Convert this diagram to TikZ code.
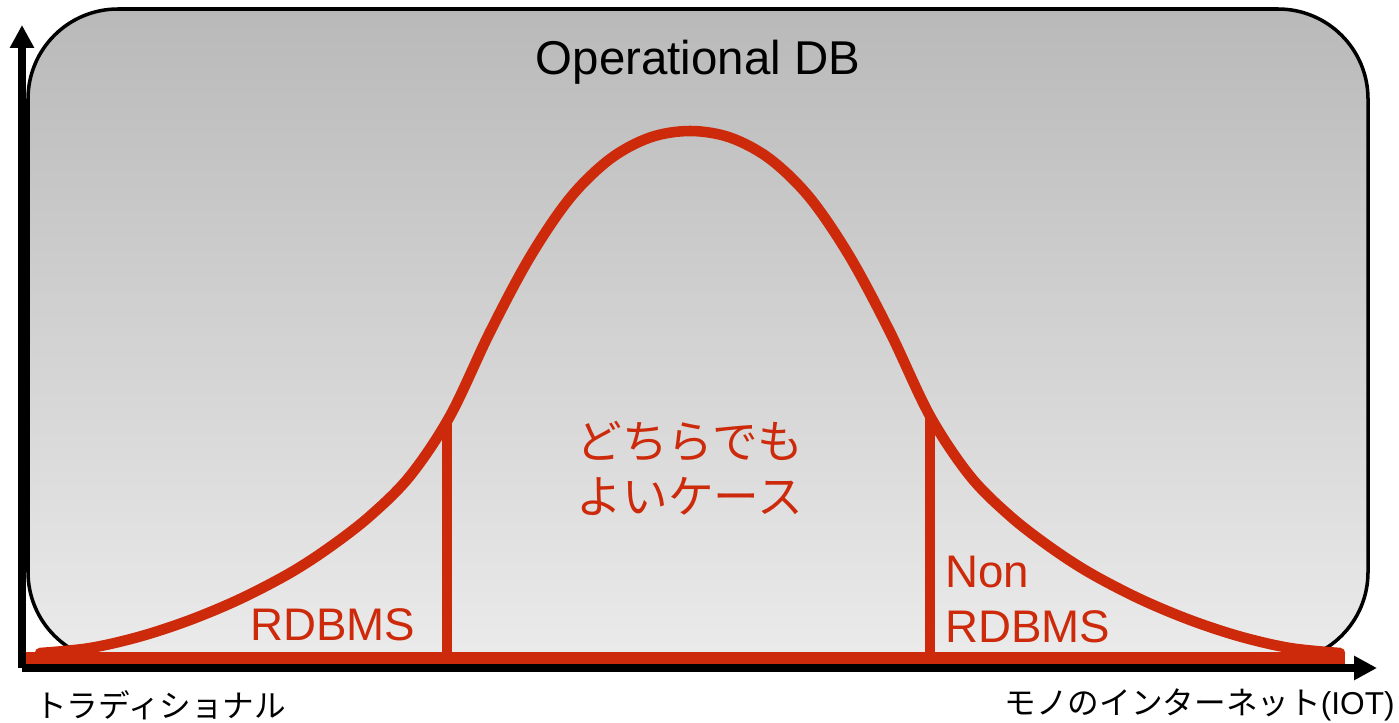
\documentclass[tikz,border=0pt]{standalone}
\usepackage{fontspec}
\setmainfont{Liberation Sans}
\newfontfamily\jpfont{Noto Sans CJK JP}
\usetikzlibrary{arrows.meta}

\definecolor{chalkred}{HTML}{CC2A0A}
\definecolor{dbtop}{HTML}{B9B9B9}
\definecolor{dbbottom}{HTML}{EBEBEB}

\begin{document}
\begin{tikzpicture}[x=0.02cm,y=-0.02cm,
  every node/.style={inner sep=0pt},
  chalk/.style={chalkred,line width=6pt,line cap=round,line join=round},
  axis/.style={line width=4.3pt,-{Triangle[length=13pt,width=13pt]}},
  redtext/.style={text=chalkred,font=\fontsize{26}{31}\selectfont},
  axistext/.style={font=\fontsize{18}{22}\selectfont}]
  \useasboundingbox (0,0) rectangle (1399,723);

  % the DB box
  \draw[line width=2pt,rounded corners=1.8cm,top color=dbtop,bottom color=dbbottom]
    (28,9) rectangle (1368,662);
  \node[anchor=base] at (698,75) (title) {\fontsize{27}{32}\selectfont Operational DB};

  % bell curve
  \draw[chalk] plot[smooth,tension=0.55] coordinates {
    (40,653) (90,648) (140,636.5) (190,620) (240,599) (290,573) (330,547)
    (370,516) (410,476) (450,416) (490,332) (530,257) (570,198) (610,159)
    (650,137.5) (690,131) (730,137.5) (770,159) (810,198) (850,257)
    (890,332) (930,416) (970,476) (1010,516) (1050,547) (1090,573)
    (1140,599) (1190,620) (1240,636.5) (1290,648) (1340,653)};

  \coordinate (lcut)  at (447,421);
  \coordinate (lfoot) at (447,658);
  \coordinate (rcut)  at (930,416);
  \coordinate (rfoot) at (930,658);
  \draw[chalk] (lcut) -- (lfoot);
  \draw[chalk] (rcut) -- (rfoot);

  \coordinate (bstart) at (22,658);
  \coordinate (bend)   at (1345,658);
  \draw[chalk,line width=7pt,line cap=butt] (bstart) -- (bend);

  % labels
  \node[redtext,anchor=base west] at (250,640) (rdb) {RDBMS};
  \node[redtext,anchor=base west] at (945,587) (non) {Non};
  \node[redtext,anchor=base west] at (945,642) (nonrdb) {RDBMS};
  \node[redtext,font=\fontsize{26}{31}\selectfont\jpfont] at (690,441) (mid1) {どちらでも};
  \node[redtext,font=\fontsize{26}{31}\selectfont\jpfont] at (690,496) (mid2) {よいケース};

  % axes
  \coordinate (o) at (22,668);
  \coordinate (ytop) at (22,25);
  \coordinate (xend) at (1377,668);
  \draw[axis] (o) -- (ytop);
  \draw[axis] (o) -- (xend);

  \node[axistext,anchor=west] at (35,705) (trad) {\jpfont トラディショナル};
  \node[axistext,anchor=east] at (1395,705) (iot) {{\jpfont モノのインターネット}(IOT)};
\end{tikzpicture}
\end{document}
